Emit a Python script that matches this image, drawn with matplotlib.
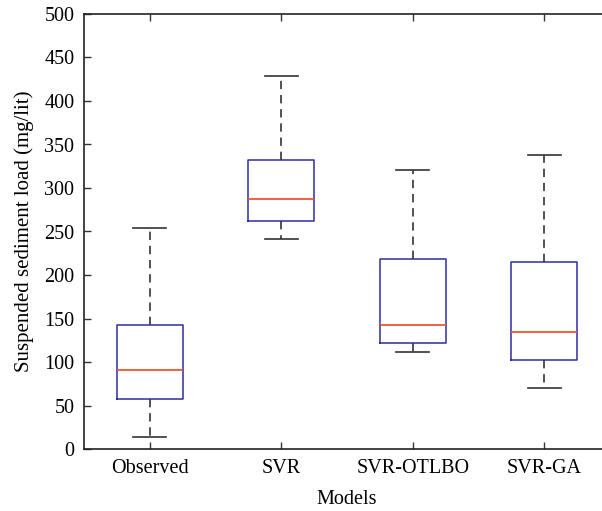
import matplotlib.pyplot as plt

# values (mg/lit)
models = ["Observed", "SVR", "SVR-OTLBO", "SVR-GA"]
whisker_low = [14, 241, 111, 70]
q1 = [58, 262, 122, 102]
median = [91, 287, 143, 134]
q3 = [143, 332, 218, 215]
whisker_high = [254, 429, 321, 338]
y_ticks = [0, 50, 100, 150, 200, 250, 300, 350, 400, 450, 500]


def main():
    plt.rcParams["font.family"] = ["Liberation Serif", "DejaVu Serif"]
    plt.rcParams["font.size"] = 14.5

    fig = plt.figure(figsize=(6.02, 5.11), dpi=100)
    # axes runs a little past the right edge, as in the reference
    ax = fig.add_axes([84 / 602, 62 / 511, 526 / 602, 435 / 511])

    stats = []
    for i, name in enumerate(models):
        stats.append({
            "label": name,
            "whislo": whisker_low[i],
            "q1": q1[i],
            "med": median[i],
            "q3": q3[i],
            "whishi": whisker_high[i],
            "fliers": [],
        })

    ax.bxp(
        stats,
        positions=range(1, len(models) + 1),
        widths=0.5,
        showfliers=False,
        boxprops=dict(color="#2e2ea0", linewidth=1.1),
        medianprops=dict(color="#ee5533", linewidth=1.3),
        whiskerprops=dict(color="#333333", linewidth=1.2, linestyle=(0, (5, 3.5))),
        capprops=dict(color="#333333", linewidth=1.2),
        capwidths=0.25,
    )

    ax.set_xlim(0.5, 4.5)
    ax.set_ylim(0, 500)
    ax.set_yticks(y_ticks)
    ax.set_xlabel("Models", labelpad=9)
    ax.set_ylabel("Suspended sediment load (mg/lit)", fontsize=15, labelpad=7)

    ax.tick_params(direction="in", length=5, width=1, color="#333333", top=True, right=False)
    ax.tick_params(axis="x", pad=7)
    ax.tick_params(axis="y", pad=7)
    for side in ["left", "bottom", "top"]:
        ax.spines[side].set_linewidth(1.2)
        ax.spines[side].set_color("#222222")
    ax.spines["right"].set_visible(False)

    fig.savefig("out.png", dpi=100)


if __name__ == "__main__":
    main()
